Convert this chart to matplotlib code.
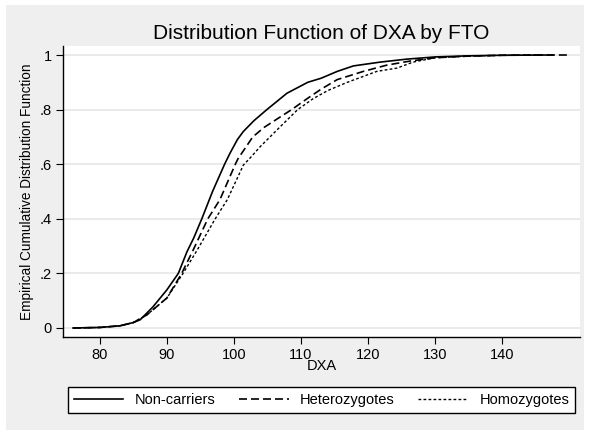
#!/usr/bin/env python3
"""Empirical CDF of DXA by FTO genotype, Stata-like look."""

import matplotlib
matplotlib.use("Agg")
import matplotlib.pyplot as plt
from matplotlib.patches import Rectangle


# ECDF points (x = DXA, y = cumulative share)
NONCARRIER_X = [76, 80, 83, 85, 86, 87.9, 90, 91.7, 93, 94, 95.2, 96.8, 98.6,
                99.4, 100.5, 101.4, 103, 104.9, 106.4, 107.9, 111, 113,
                115.4, 117.8, 121.8, 125.8, 130, 135, 140, 147.6]
NONCARRIER_Y = [0, 0.002, 0.008, 0.02, 0.03, 0.077, 0.14, 0.2, 0.28, 0.33,
                0.4, 0.5, 0.6, 0.64, 0.69, 0.72, 0.76, 0.8, 0.83, 0.86,
                0.9, 0.915, 0.94, 0.96, 0.974, 0.985, 0.993, 0.997, 0.999, 1.0]

HETERO_X = [76, 80, 83, 85, 87, 90, 92.2, 93.9, 96.1, 97.9, 100.2, 100.6,
            102.8, 104.5, 106.7, 108.6, 110.9, 113, 115.4, 119.3, 122.8,
            126.3, 130, 135, 140, 145, 150]
HETERO_Y = [0, 0.002, 0.008, 0.02, 0.048, 0.11, 0.2, 0.285, 0.4, 0.47, 0.6,
            0.62, 0.7, 0.735, 0.77, 0.8, 0.84, 0.875, 0.91, 0.94, 0.963,
            0.978, 0.99, 0.996, 0.999, 1.0, 1.0]

HOMO_X = [76, 80, 83, 85, 87, 90, 92.4, 94.5, 97.2, 99, 101.4, 102.3, 103.9,
          106.8, 109.5, 111.8, 114, 116.9, 121.3, 124.3, 126.7, 130, 135,
          140, 146]
HOMO_Y = [0, 0.002, 0.008, 0.02, 0.048, 0.11, 0.2, 0.285, 0.4, 0.47, 0.597,
          0.62, 0.664, 0.735, 0.8, 0.84, 0.87, 0.9, 0.94, 0.952, 0.974,
          0.99, 0.996, 0.999, 1.0]

SERIES_LABELS = ["Non-carriers", "Heterozygotes", "Homozygotes"]
X_TICKS = [80, 90, 100, 110, 120, 130, 140]
Y_TICKS = [0, 0.2, 0.4, 0.6, 0.8, 1.0]
Y_TICK_LABELS = ["0", ".2", ".4", ".6", ".8", "1"]

BG = "#efefef"

plt.rcParams["font.family"] = ["Liberation Sans", "DejaVu Sans"]


def main():
    fig = plt.figure(figsize=(5.9, 4.32), dpi=100, facecolor="white")
    fig.patches.append(Rectangle((6 / 590, 2 / 432), 578 / 590, 425 / 432,
                                 transform=fig.transFigure, facecolor=BG,
                                 edgecolor="none", zorder=-10))

    ax = fig.add_axes([63 / 590, 95 / 432, 517 / 590, 291 / 432])
    ax.set_facecolor("white")

    ax.plot(NONCARRIER_X, NONCARRIER_Y, color="black", lw=1.2,
            label=SERIES_LABELS[0])
    ax.plot(HETERO_X, HETERO_Y, color="black", lw=1.2,
            linestyle=(0, (4.8, 2.4)), label=SERIES_LABELS[1])
    ax.plot(HOMO_X, HOMO_Y, color="black", lw=1.0,
            linestyle=(0, (2.0, 1.6)), label=SERIES_LABELS[2])

    ax.set_xlim(74.5, 151.6)
    ax.set_ylim(-0.033, 1.033)
    ax.set_xticks(X_TICKS)
    ax.set_yticks(Y_TICKS)
    ax.set_yticklabels(Y_TICK_LABELS)
    ax.tick_params(direction="out", length=5, width=0.8, labelsize=10.5,
                   pad=3)
    ax.grid(axis="y", color="#e6e6e6", lw=1.2)
    ax.set_axisbelow(True)

    for side in ["top", "right"]:
        ax.spines[side].set_visible(False)
    for side in ["left", "bottom"]:
        ax.spines[side].set_linewidth(1.0)

    ax.set_xlabel("DXA", fontsize=10.5, labelpad=-2)
    ax.set_ylabel("Empirical Cumulative Distribution Function", fontsize=9.8,
                  labelpad=4)
    ax.set_title("Distribution Function of DXA by FTO", fontsize=15,
                 pad=5)

    fig.legend(loc="lower left", ncol=3, mode="expand",
               bbox_to_anchor=(68 / 590, 19 / 432, 507 / 590, 28 / 432),
               frameon=True, fancybox=False, edgecolor="black",
               facecolor="white", framealpha=1, fontsize=10.5,
               handlelength=3.4, borderaxespad=0, borderpad=0.4,
               columnspacing=1.0)
    fig.legends[0].get_frame().set_linewidth(1.0)

    fig.savefig("out.png", dpi=100, facecolor="white")


if __name__ == "__main__":
    main()
